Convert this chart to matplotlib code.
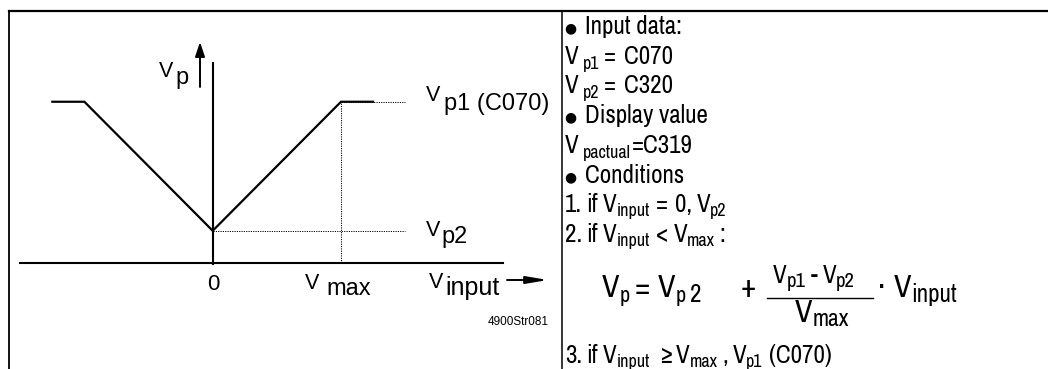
import matplotlib.pyplot as plt
from matplotlib.patches import ArrowStyle

# setpoint characteristic: V_p2 at zero input, rising to V_p1 at +-V_max, flat beyond
v_input = [-1.25, -1.0, 0.0, 1.0, 1.25]
v_p = [1.25, 1.25, 0.25, 1.25, 1.25]
v_max = 1.0
v_p1 = 1.25
v_p2 = 0.25
guide_end = 1.5

NARROW = ['Archivo Narrow', 'DejaVu Sans']

W, H = 1048, 369
fig = plt.figure(figsize=(W / 100, H / 100), dpi=100)
renderer = fig.canvas.get_renderer()

# pixel canvas for the frame, labels and the text block
ax = fig.add_axes([0, 0, 1, 1])
ax.set_xlim(0, W)
ax.set_ylim(H, 0)
ax.axis('off')

# diagram axes, origin at (212.7, 263) px
x0, y0, ux, uy = 212.7, 263, 128.3, 129
dg = fig.add_axes([0, 0, 1, 1])
dg.set_xlim(-x0 / ux, (W - x0) / ux)
dg.set_ylim((y0 - H) / uy, y0 / uy)
dg.axis('off')
dg.patch.set_alpha(0)

# frame
ax.plot([9, W], [11, 11], color='k', lw=1.6)
ax.plot([9, 9], [11, H], color='k', lw=1.3)
ax.plot([562, 562], [11, H], color='k', lw=1.1)

# axes of the diagram
dg.plot([-1.5, 2.26], [0, 0], color='k', lw=1.5)
dg.plot([0, 0], [-0.005, 1.55], color='k', lw=1.5)
dot = (0, (1.2, 1.2))
dg.plot([v_max, guide_end], [v_p1, v_p1], color='k', lw=0.7, ls=dot)
dg.plot([0, guide_end], [v_p2, v_p2], color='k', lw=0.7, ls=dot)
dg.plot([v_max, v_max], [0, v_p1], color='k', lw=0.7, ls=dot)
dg.plot(v_input, v_p, color='k', lw=1.6, solid_joinstyle='miter')

up = ArrowStyle('-|>', head_length=0.86, head_width=0.29)
right = ArrowStyle('-|>', head_length=1.3, head_width=0.22)
ax.annotate('', xy=(200, 42), xytext=(200, 87),
            arrowprops=dict(arrowstyle=up, color='k', lw=1.4, mutation_scale=10,
                            shrinkA=0, shrinkB=0))
ax.annotate('', xy=(548, 280), xytext=(507, 280),
            arrowprops=dict(arrowstyle=right, color='k', lw=1.4, mutation_scale=10,
                            shrinkA=0, shrinkB=0))

# diagram labels: V with a larger, lowered index
big = dict(family='Liberation Sans', fontsize=17, va='baseline', color='k')
small = dict(family='Liberation Sans', fontsize=15.5, va='baseline', color='k')
ax.text(159, 77, 'V', **small)
ax.text(175, 84, 'p', **big)
ax.text(213, 290, '0', ha='center', fontsize=16, family='Liberation Sans', va='baseline')
ax.text(305, 289, 'V', **small)
ax.text(326, 295, 'max', **big)
ax.text(429, 288, 'V', **small)
ax.text(445, 295, 'input', **dict(big, fontsize=18))
ax.text(426, 101, 'V', **small)
ax.text(444, 110, 'p1 (C070)', **big)
ax.text(426, 236, 'V', **small)
ax.text(441, 243, 'p2', **big)
ax.text(549, 325, '4900Str081', family='Liberation Sans', fontsize=8.5,
        ha='right', va='baseline')


def runs(x, y, parts):
    # parts: (text, size, drop) pieces set one after another; a bare number is a gap in px
    for p in parts:
        if isinstance(p, (int, float)):
            x += p
            continue
        s, size, drop = p
        t = ax.text(x, y + drop, s, family=NARROW, fontsize=size, va='baseline', color='k')
        x += t.get_window_extent(renderer).width
    return x


M, S = 18, 13      # text block: main and index size
bul = dict(family='DejaVu Sans', fontsize=10, va='center', ha='center', color='k')

ax.text(570, 28, '\u25cf', **bul)
runs(585, 34, [('Input data:', M, 0)])
runs(565, 64, [('V', M, 0), 4, ('p1', S, 5), 5, ('=', M, 0), 8, ('C070', M, 0)])
runs(565, 93, [('V', M, 0), 4, ('p2', S, 5), 5, ('=', M, 0), 8, ('C320', M, 0)])
ax.text(570, 117, '\u25cf', **bul)
runs(585, 123, [('Display value', M, 0)])
runs(565, 153, [('V', M, 0), 4, ('pactual', S, 5), 1, ('=C319', M, 0)])
ax.text(570, 177, '\u25cf', **bul)
runs(585, 183, [('Conditions', M, 0)])
runs(565, 212, [('1.', M, 0), 4, ('if', M, 0), 5, ('V', M, 0), ('input', S, 4), 6,
                ('=', M, 0), 7, ('0,', M, 0), 5, ('V', M, 0), ('p2', S, 4)])
runs(565, 242, [('2.', M, 0), 4, ('if', M, 0), 5, ('V', M, 0), ('input', S, 4), 6,
                ('<', M, 0), 6, ('V', M, 0), ('max', S, 4), 4, (':', M, 0)])
runs(565, 363, [('3.', M, 0), 4, ('if', M, 0), 5, ('V', M, 0), ('input', S, 4), 10,
                ('\u2265', M, 0), 3, ('V', M, 0), ('max', S, 4), 4, (',', M, 0), 5,
                ('V', M, 0), ('p1', S, 4), 6, ('(C070)', M, 0)])

# formula: V_p = V_p2 + (V_p1 - V_p2) / V_max * V_input
F, FS = 23, 16
runs(602, 297, [('V', F, 0), ('p', FS, 5)])
ax.text(642, 297, '=', family=NARROW, fontsize=F, ha='center', va='baseline')
runs(658, 297, [('V', F, 0), ('p', FS, 5), 4, ('2', FS + 2, 5)])
ax.text(748, 297, '+', family=NARROW, fontsize=F, ha='center', va='baseline')
runs(773, 283, [('V', 18, 0), ('p1', 15, 4), 5, ('-', 18, 0), 5, ('V', 18, 0), ('p2', 15, 4)])
ax.plot([767, 873], [298, 298], color='k', lw=1.0)
runs(795, 322, [('V', F, 0), ('max', 17, 4)])
ax.text(882, 297, '\u00b7', family=NARROW, fontsize=F, ha='center', va='baseline')
runs(894, 297, [('V', F, 0), ('input', 18, 5)])

fig.savefig('out.png', dpi=100)
